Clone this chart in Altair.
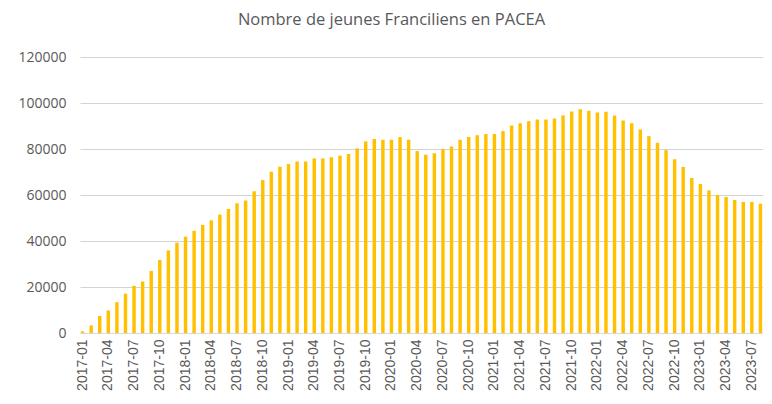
import altair as alt
import pandas as pd

months = [f"{y}-{m:02d}" for y in range(2017, 2024) for m in range(1, 13)][:80]

values = [
    700, 3300, 7400, 9800, 13400, 17100, 20500, 22400, 27000, 31800,
    35900, 39300, 41900, 44400, 47000, 49000, 51500, 53900, 56400, 57600,
    61600, 66500, 70100, 72300, 73500, 74600, 74600, 75900, 75900, 76400,
    77100, 77800, 80300, 83300, 84300, 84000, 84000, 85200, 84000, 79100,
    77500, 78200, 80000, 81100, 84000, 85200, 86000, 86500, 86500, 87800,
    90200, 91200, 92100, 92800, 92800, 93300, 94600, 96300, 97300, 96600,
    95900, 96200, 94600, 92400, 91200, 88500, 85600, 82700, 79500, 75500,
    72200, 67400, 64800, 62000, 60000, 59100, 57800, 57000, 57000, 56200,
]

y_ticks = [0, 20000, 40000, 60000, 80000, 100000, 120000]

df = pd.DataFrame({"mois": months, "jeunes": values})

label_expr = "indexof(['01','04','07','10'], slice(datum.value, 5)) >= 0 ? datum.value : ''"

chart = (
    alt.Chart(df)
    .mark_bar(color="#FFC000")
    .encode(
        x=alt.X(
            "mois:N",
            sort=months,
            title=None,
            scale=alt.Scale(paddingInner=0.6, paddingOuter=0.1),
            axis=alt.Axis(
                labelAngle=-90,
                labelExpr=label_expr,
                ticks=False,
                labelPadding=6,
                labelFont="Liberation Sans",
                labelFontSize=14,
                labelColor="#595959",
                domainColor="#D9D9D9",
                domainWidth=1,
                grid=False,
                labelOverlap=False,
            ),
        ),
        y=alt.Y(
            "jeunes:Q",
            title=None,
            scale=alt.Scale(domain=[0, 120000], nice=False),
            axis=alt.Axis(
                values=y_ticks,
                format="d",
                ticks=False,
                domain=False,
                labelPadding=14,
                labelFont="Open Sans",
                labelFontSize=14,
                labelColor="#595959",
                gridColor="#D4D4D4",
                gridWidth=1,
            ),
        ),
    )
    .properties(
        width=683,
        height=276,
        autosize=alt.AutoSizeParams(type="none"),
        padding={"left": 72, "top": 49, "right": 0, "bottom": 63},
        title=alt.TitleParams(
            "Nombre de jeunes Franciliens en PACEA",
            font="Open Sans",
            fontSize=16.5,
            fontWeight="normal",
            color="#595959",
            anchor="middle",
            dx=-30,
            offset=22,
        ),
    )
    .configure_view(stroke=None)
)

chart.save("out.html", embed_options={"renderer": "svg", "actions": False})
